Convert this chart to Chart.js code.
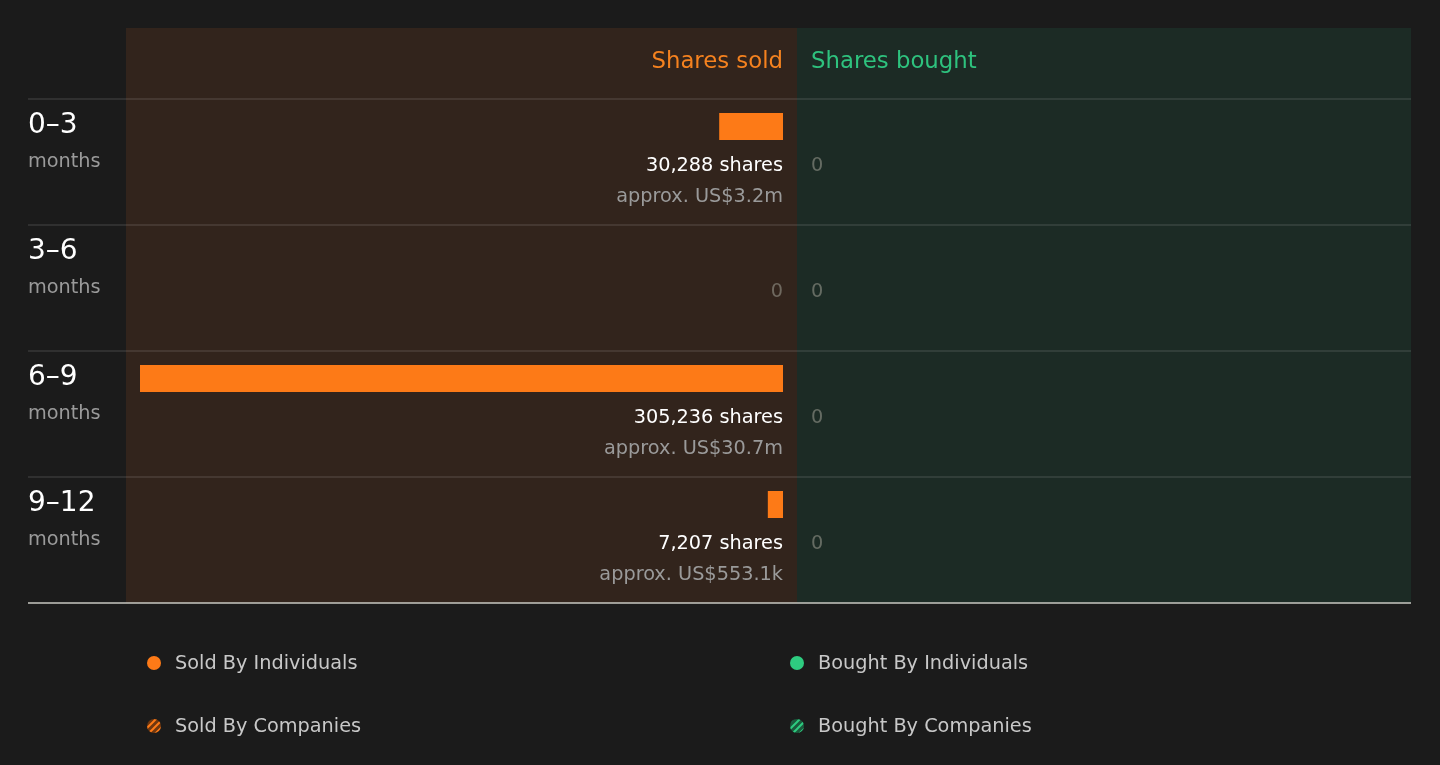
<!DOCTYPE html>
<html>
<head>
<meta charset="utf-8">
<script src="https://cdn.jsdelivr.net/npm/chart.js@4"></script>
<style>
  html, body { margin: 0; padding: 0; background: #1b1b1b; }
  #wrap { position: relative; width: 1440px; height: 765px; }
  canvas { position: absolute; left: 0; top: 0; }
</style>
</head>
<body>
<div id="wrap">
  <canvas id="soldChart" width="1440" height="765"></canvas>
  <canvas id="boughtChart" width="1440" height="765"></canvas>
</div>
<script>
// --- datos ---
const periodos = ["0–3", "3–6", "6–9", "9–12"];
const soldIndividuals = [30288, 0, 305236, 7207];
const soldCompanies = [0, 0, 0, 0];
const boughtIndividuals = [0, 0, 0, 0];
const boughtCompanies = [0, 0, 0, 0];
const soldValue = ["US$3.2m", "", "US$30.7m", "US$553.1k"];
const boughtValue = ["", "", "", ""];

const FONT = "'DejaVu Sans', sans-serif";
const SMALL = "19.3px " + FONT;
const ORANGE = "#fd7a17";
const GREEN = "#2ecc80";

const soldTotals = soldIndividuals.map((v, i) => v + soldCompanies[i]);
const boughtTotals = boughtIndividuals.map((v, i) => v + boughtCompanies[i]);
const maxShares = Math.max(...soldTotals, ...boughtTotals);

// filas de 126px, la barra empieza 14px bajo el borde de la fila
const ROW_H = 126;
const BAR_H = 27;
const BAR_OFF = 14 + BAR_H / 2;

function rowTop(chart, i) {
  return chart.scales.y.getPixelForValue(i) - BAR_OFF;
}

function stripePattern(base, stripe) {
  const c = document.createElement("canvas");
  c.width = 7; c.height = 7;
  const g = c.getContext("2d");
  g.fillStyle = base;
  g.fillRect(0, 0, 7, 7);
  g.strokeStyle = stripe;
  g.lineWidth = 2;
  g.beginPath();
  g.moveTo(-1, 8); g.lineTo(8, -1);
  g.moveTo(-1, 1); g.lineTo(1, -1);
  g.moveTo(6, 8); g.lineTo(8, 6);
  g.stroke();
  return g.createPattern(c, "repeat");
}

// --- fondo, cabecera, filas y leyenda ---
const marco = {
  id: "marco",
  beforeDraw(chart) {
    const ctx = chart.ctx;
    const top0 = rowTop(chart, 0);
    const bottom = top0 + ROW_H * periodos.length;
    ctx.save();
    ctx.fillStyle = "#1b1b1b";
    ctx.fillRect(0, 0, chart.width, chart.height);
    ctx.fillStyle = "#32241c";
    ctx.fillRect(126, 28, 671, bottom - 28);
    ctx.fillStyle = "#1c2b25";
    ctx.fillRect(797, 28, 614, bottom - 28);

    ctx.font = "22.8px " + FONT;
    ctx.textBaseline = "middle";
    ctx.fillStyle = "#f5821f";
    ctx.textAlign = "right";
    ctx.fillText("Shares sold", 783, 62);
    ctx.fillStyle = "#2ec27e";
    ctx.textAlign = "left";
    ctx.fillText("Shares bought", 811, 62);

    periodos.forEach((p, i) => {
      const t = rowTop(chart, i);
      ctx.strokeStyle = "rgba(255,255,255,0.13)";
      ctx.lineWidth = 1.5;
      ctx.beginPath();
      ctx.moveTo(28, t); ctx.lineTo(1411, t);
      ctx.stroke();
      ctx.textAlign = "left";
      ctx.fillStyle = "#ffffff";
      ctx.font = "28px " + FONT;
      ctx.fillText(p, 28, t + 27);
      ctx.fillStyle = "#9a9a9a";
      ctx.font = SMALL;
      ctx.fillText("months", 28, t + 63);
    });
    ctx.strokeStyle = "#c9c9c2";
    ctx.lineWidth = 1.5;
    ctx.beginPath();
    ctx.moveTo(28, bottom); ctx.lineTo(1411, bottom);
    ctx.stroke();

    // leyenda
    const items = [
      { x: 154, y: 663, text: "Sold By Individuals", fill: ORANGE },
      { x: 797, y: 663, text: "Bought By Individuals", fill: GREEN },
      { x: 154, y: 726, text: "Sold By Companies", fill: stripePattern("#6e3710", ORANGE) },
      { x: 797, y: 726, text: "Bought By Companies", fill: stripePattern("#1a5a3c", GREEN) }
    ];
    ctx.font = SMALL;
    items.forEach(it => {
      ctx.fillStyle = it.fill;
      ctx.beginPath();
      ctx.arc(it.x, it.y, 7, 0, Math.PI * 2);
      ctx.fill();
      ctx.fillStyle = "#c8c8c8";
      ctx.textAlign = "left";
      ctx.fillText(it.text, it.x + 21, it.y + 1);
    });
    ctx.restore();
  }
};

// --- etiquetas de valores ---
function etiquetas(totals, values, align) {
  return {
    id: "etiquetas",
    afterDatasetsDraw(chart) {
      const ctx = chart.ctx;
      const x0 = chart.scales.x.getPixelForValue(0);
      ctx.save();
      ctx.textAlign = align;
      ctx.textBaseline = "middle";
      ctx.font = SMALL;
      totals.forEach((v, i) => {
        const t = rowTop(chart, i);
        if (v === 0) {
          ctx.fillStyle = "rgba(160,160,150,0.55)";
          ctx.fillText("0", x0, t + 67);
          return;
        }
        ctx.fillStyle = "#ffffff";
        ctx.fillText(v.toLocaleString("en-US") + " shares", x0, t + 67);
        ctx.fillStyle = "#9a9a9a";
        ctx.fillText("approx. " + values[i], x0, t + 98);
      });
      ctx.restore();
    }
  };
}

function opciones(padLeft, padRight, reverse) {
  return {
    indexAxis: "y",
    responsive: false,
    animation: false,
    layout: {
      padding: {
        left: padLeft,
        right: padRight,
        top: 99 + BAR_OFF - ROW_H / 2,
        bottom: 765 - (99 + BAR_OFF - ROW_H / 2) - ROW_H * periodos.length
      }
    },
    plugins: { legend: { display: false }, tooltip: { enabled: false } },
    scales: {
      x: { type: "linear", display: false, reverse: reverse, min: 0, max: maxShares, stacked: true },
      y: { type: "category", display: false, stacked: true }
    }
  };
}

const barra = { barThickness: BAR_H, borderWidth: 0, inflateAmount: 0 };

new Chart(document.getElementById("soldChart"), {
  type: "bar",
  data: {
    labels: periodos,
    datasets: [
      { ...barra, label: "Sold By Individuals", data: soldIndividuals, backgroundColor: ORANGE },
      { ...barra, label: "Sold By Companies", data: soldCompanies, backgroundColor: stripePattern("#6e3710", ORANGE) }
    ]
  },
  options: opciones(140, 1440 - 783, true),
  plugins: [marco, etiquetas(soldTotals, soldValue, "right")]
});

new Chart(document.getElementById("boughtChart"), {
  type: "bar",
  data: {
    labels: periodos,
    datasets: [
      { ...barra, label: "Bought By Individuals", data: boughtIndividuals, backgroundColor: GREEN },
      { ...barra, label: "Bought By Companies", data: boughtCompanies, backgroundColor: stripePattern("#1a5a3c", GREEN) }
    ]
  },
  options: opciones(811, 1440 - 1397, false),
  plugins: [etiquetas(boughtTotals, boughtValue, "left")]
});
</script>
</body>
</html>
